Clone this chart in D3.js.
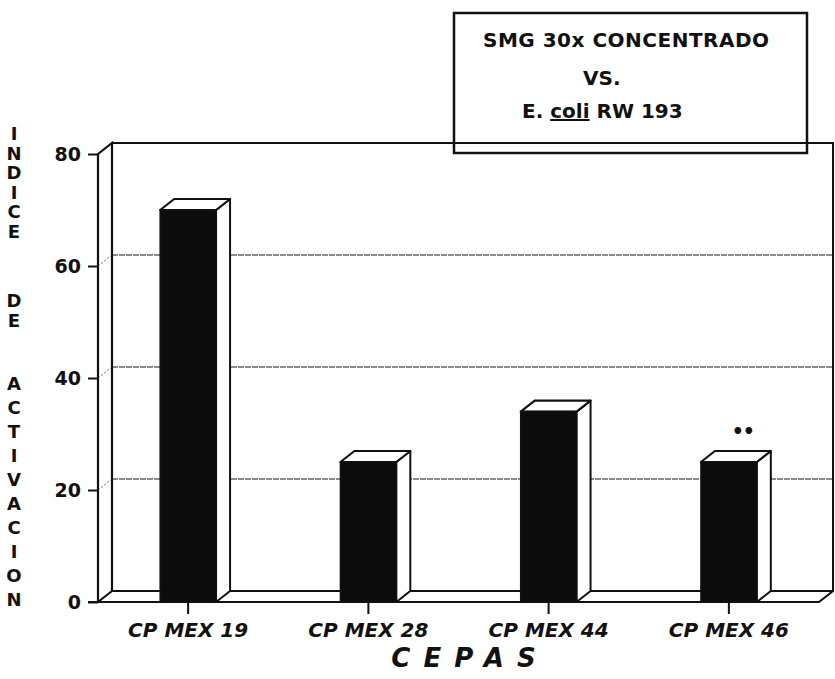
<!DOCTYPE html>
<html>
<head>
<meta charset="utf-8">
<script src="https://cdn.jsdelivr.net/npm/d3@7"></script>
<style>
  body { margin: 0; background: #fff; }
  text { font-family: "DejaVu Sans", "Liberation Sans", Arial, sans-serif; font-weight: bold; fill: #111; }
</style>
</head>
<body>
<div id="content"></div>
<script>
var cepas = ["CP MEX 19", "CP MEX 28", "CP MEX 44", "CP MEX 46"];
var indice = [70, 25, 34, 25];
var marcas = ["", "", "", "\u2022\u2022"];
var yTicks = [0, 20, 40, 60, 80];
var gridTicks = [20, 40, 60];
var titleWords = ["INDICE", "DE", "ACTIVACION"];
var boxLines = ["SMG 30x CONCENTRADO", "VS."];

var width = 835, height = 679;
var depth = {dx: 14, dy: -11};
var ink = "#111";
var font = "DejaVu Sans, Liberation Sans, Arial, sans-serif";

var svg = d3.select("#content")
  .append("svg")
  .attr("width", width)
  .attr("height", height);

var x = d3.scaleBand()
  .domain(cepas)
  .range([98, 819])
  .paddingInner(0.69)
  .paddingOuter(0.345);

var y = d3.scaleLinear()
  .domain([0, 80])
  .range([602, 154]);

var x0 = 98, x1 = 819;
var y0 = y(0);

// back wall
svg.append("rect")
  .attr("x", x0 + depth.dx)
  .attr("y", y(80) + depth.dy)
  .attr("width", x1 - x0)
  .attr("height", y0 - y(80))
  .attr("fill", "#fff")
  .attr("stroke", ink)
  .attr("stroke-width", 2);

// gridlines on back wall + dashed ones on the side wall
gridTicks.forEach(function(t) {
  svg.append("line")
    .attr("x1", x0 + depth.dx).attr("x2", x1 + depth.dx)
    .attr("y1", y(t) + depth.dy).attr("y2", y(t) + depth.dy)
    .attr("stroke", "#666")
    .attr("stroke-width", 1.3)
    .attr("stroke-dasharray", "6,1");
  svg.append("line")
    .attr("x1", x0).attr("x2", x0 + depth.dx)
    .attr("y1", y(t)).attr("y2", y(t) + depth.dy)
    .attr("stroke", "#666")
    .attr("stroke-width", 1)
    .attr("stroke-dasharray", "2,2");
});

// side wall (left)
svg.append("path")
  .attr("d", "M" + x0 + "," + y0 + "L" + x0 + "," + y(80) +
             "L" + (x0 + depth.dx) + "," + (y(80) + depth.dy) +
             "L" + (x0 + depth.dx) + "," + (y0 + depth.dy))
  .attr("fill", "none")
  .attr("stroke", ink)
  .attr("stroke-width", 2.2);

// floor
svg.append("path")
  .attr("d", "M" + x0 + "," + y0 + "L" + (x0 + depth.dx) + "," + (y0 + depth.dy) +
             "L" + (x1 + depth.dx) + "," + (y0 + depth.dy) + "L" + x1 + "," + y0 + "Z")
  .attr("fill", "#fff")
  .attr("stroke", ink)
  .attr("stroke-width", 2.2)
  .attr("stroke-linejoin", "round");

// y axis
var yAxis = svg.append("g")
  .attr("transform", "translate(" + x0 + ",0)")
  .call(d3.axisLeft(y).tickValues(yTicks).tickSize(10).tickPadding(7));
yAxis.select(".domain").remove();
yAxis.selectAll("line").attr("stroke", ink).attr("stroke-width", 2);
yAxis.selectAll("text")
  .attr("font-size", 19)
  .attr("font-family", font)
  .attr("font-weight", "bold")
  .attr("fill", ink);

// front line of the floor runs out to the tick
svg.append("line")
  .attr("x1", x0 - 10).attr("x2", x1)
  .attr("y1", y0).attr("y2", y0)
  .attr("stroke", ink)
  .attr("stroke-width", 2.2);

// bars
var bw = x.bandwidth();
var bars = svg.selectAll(".bar")
  .data(cepas)
  .enter().append("g")
  .attr("class", "bar");

bars.append("path")
  .attr("d", function(d, i) {
    var bx = x(d), by = y(indice[i]);
    return "M" + (bx + bw) + "," + by +
           "L" + (bx + bw + depth.dx) + "," + (by + depth.dy) +
           "L" + (bx + bw + depth.dx) + "," + (y0 + depth.dy) +
           "L" + (bx + bw) + "," + y0 + "Z";
  })
  .attr("fill", "#fff")
  .attr("stroke", ink)
  .attr("stroke-width", 2)
  .attr("stroke-linejoin", "round");

bars.append("path")
  .attr("d", function(d, i) {
    var bx = x(d), by = y(indice[i]);
    return "M" + bx + "," + by +
           "L" + (bx + depth.dx) + "," + (by + depth.dy) +
           "L" + (bx + bw + depth.dx) + "," + (by + depth.dy) +
           "L" + (bx + bw) + "," + by + "Z";
  })
  .attr("fill", "#fff")
  .attr("stroke", ink)
  .attr("stroke-width", 2.2)
  .attr("stroke-linejoin", "round");

bars.append("rect")
  .attr("x", function(d) { return x(d); })
  .attr("y", function(d, i) { return y(indice[i]); })
  .attr("width", bw)
  .attr("height", function(d, i) { return y0 - y(indice[i]); })
  .attr("fill", "#0c0c0c")
  .attr("stroke", ink)
  .attr("stroke-width", 1.5);

// significance marks above the bars
bars.append("text")
  .attr("x", function(d) { return x(d) + bw / 2 + depth.dx; })
  .attr("y", function(d, i) { return y(indice[i]) - 24; })
  .attr("text-anchor", "middle")
  .attr("font-size", 19)
  .attr("letter-spacing", -1)
  .text(function(d, i) { return marcas[i]; });

// x axis
var xAxis = svg.append("g")
  .attr("transform", "translate(0," + y0 + ")")
  .call(d3.axisBottom(x).tickSize(12).tickPadding(9));
xAxis.select(".domain").remove();
xAxis.selectAll("line").attr("stroke", ink).attr("stroke-width", 2);
xAxis.selectAll("text")
  .attr("font-size", 20)
  .attr("font-style", "italic")
  .attr("font-weight", "bold")
  .attr("font-family", font)
  .attr("fill", ink);

svg.append("text")
  .attr("x", 470)
  .attr("y", 667)
  .attr("text-anchor", "middle")
  .attr("font-size", 26)
  .attr("font-style", "italic")
  .attr("letter-spacing", 13)
  .text("CEPAS");

// stacked y title
var title = svg.append("text")
  .attr("text-anchor", "middle")
  .attr("font-size", 18);
var wordStart = [133, 300, 383];
var wordStep = [19.5, 20, 24];
titleWords.forEach(function(w, wi) {
  w.split("").forEach(function(c, ci) {
    title.append("tspan")
      .attr("x", 14)
      .attr("y", wordStart[wi] + ci * wordStep[wi] + 7)
      .text(c);
  });
});

// legend box
svg.append("rect")
  .attr("x", 454).attr("y", 13)
  .attr("width", 353).attr("height", 140)
  .attr("fill", "none")
  .attr("stroke", ink)
  .attr("stroke-width", 2.5);

svg.append("text")
  .attr("x", 483).attr("y", 47)
  .attr("font-size", 20)
  .attr("letter-spacing", 0.5)
  .text(boxLines[0]);
svg.append("text")
  .attr("x", 583).attr("y", 85)
  .attr("font-size", 20)
  .text(boxLines[1]);

var l3 = svg.append("text")
  .attr("x", 522).attr("y", 118)
  .attr("font-size", 20);
l3.append("tspan").text("E. ");
l3.append("tspan").style("text-decoration", "underline").text("coli");
l3.append("tspan").text(" RW 193");
</script>
</body>
</html>
